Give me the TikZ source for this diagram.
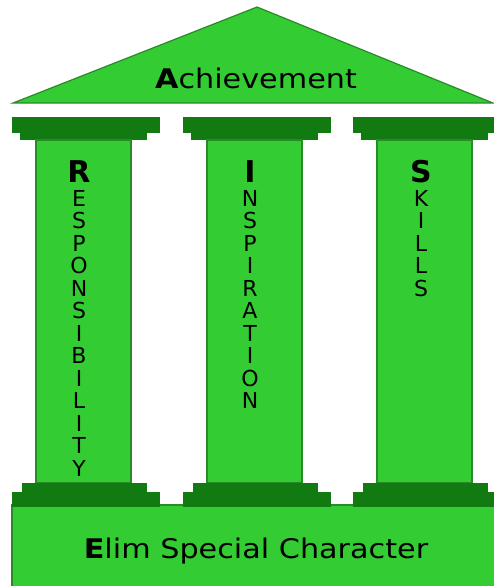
\documentclass[tikz,border=0pt]{standalone}
\usepackage{fontspec}
\setmainfont{DejaVu Sans}
\usepackage{tikz}

\definecolor{leaf}{HTML}{33CC33}
\definecolor{moss}{HTML}{117A11}
\definecolor{rim}{HTML}{2A8A2A}

\tikzset{
    stone/.style={fill=leaf, draw=rim, line width=0.6pt},
    slab/.style={fill=moss},
    title/.style={font=\fontsize{13.5}{16}\selectfont, xscale=1.12, anchor=base},
    head/.style={font=\fontsize{15}{18}\selectfont\bfseries, anchor=base},
    letter/.style={font=\fontsize{11}{13}\selectfont, anchor=base}
}

\begin{document}
\begin{tikzpicture}[x=0.5pt, y=-0.5pt]
    \clip (0,0) rectangle (494,586);
    % roof
    \draw[stone] (13,103) -- (257,7) -- (493,103) -- cycle;
    \node[title](roof) at (256,88) {\textbf{A}chievement};
    % base
    \draw[stone] (12,505) rectangle (500,592);
    \node[title](base) at (256,558) {\textbf{E}lim Special Character};
    % pillars
    \foreach \x in {12,183,353} {
        \fill[slab] (\x,117) rectangle (\x+148,133);
        \fill[slab] (\x+8,133) rectangle (\x+135,140);
        \draw[stone] (\x+24,140) rectangle (\x+119,483);
        \fill[slab] (\x+10,483) rectangle (\x+135,492);
        \fill[slab] (\x,492) rectangle (\x+148,507);
    }
    % Responsibility
    \node[head](r0) at (79,182) {R};
    \foreach \l [count=\i] in {E,S,P,O,N,S,I,B,I,L,I,T,Y}
        \node[letter](r\i) at (79,183.5+22.5*\i) {\l};
    % Inspiration
    \node[head](i0) at (250,182) {I};
    \foreach \l [count=\i] in {N,S,P,I,R,A,T,I,O,N}
        \node[letter](i\i) at (250,183.5+22.5*\i) {\l};
    % Skills
    \node[head](s0) at (421,182) {S};
    \foreach \l [count=\i] in {K,I,L,L,S}
        \node[letter](s\i) at (421,183.5+22.5*\i) {\l};
\end{tikzpicture}
\end{document}
